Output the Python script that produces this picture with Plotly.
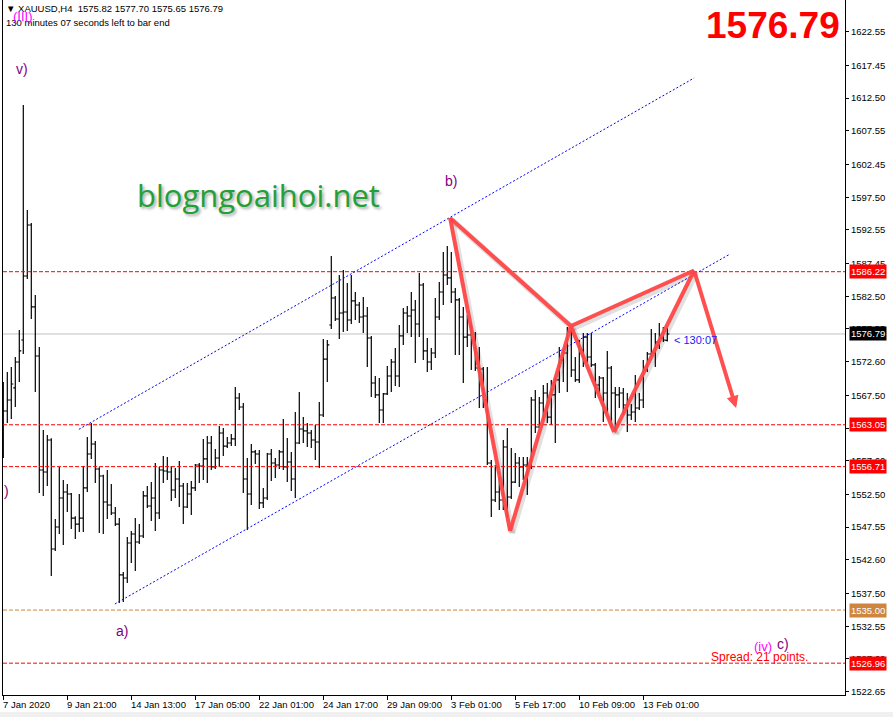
import plotly.graph_objects as go

# ---------------- data (XAUUSD H4) ----------------
bar_index = list(range(167))
opens = [1562.26,1565.13,1566.80,1568.62,1572.55,1575.88,1585.57,1593.29,1580.88,1573.46,
         1556.20,1555.90,1560.74,1544.24,1547.57,1551.96,1552.87,1552.57,1548.93,1548.02,
         1548.93,1553.48,1558.62,1560.14,1556.35,1555.29,1551.36,1550.90,1549.69,1548.02,
         1540.31,1539.85,1545.15,1546.51,1545.30,1546.21,1552.27,1550.75,1551.96,1549.69,
         1556.20,1556.05,1555.90,1553.17,1554.84,1553.78,1550.60,1552.57,1553.48,1556.96,
         1556.81,1557.87,1560.29,1556.66,1558.02,1561.80,1559.83,1560.29,1560.90,1567.10,
         1565.74,1554.84,1552.57,1558.93,1558.62,1551.21,1551.96,1558.62,1557.26,1556.96,
         1558.93,1556.66,1557.41,1554.84,1560.29,1562.41,1562.11,1561.80,1560.74,1560.44,
         1564.53,1573.00,1578.15,1582.24,1579.06,1579.97,1580.12,1578.91,1581.79,1581.18,
         1579.36,1579.51,1576.18,1569.37,1567.56,1565.28,1567.71,1570.43,1572.55,1570.43,
         1576.49,1579.97,1579.51,1580.42,1578.30,1584.21,1574.22,1572.55,1573.91,1579.36,
         1583.15,1585.72,1585.27,1583.15,1581.94,1579.36,1576.33,1576.64,1575.88,1571.64,
         1571.49,1566.80,1557.26,1551.66,1552.87,1551.66,1559.68,1552.11,1554.38,1557.26,
         1556.66,1556.96,1556.66,1566.80,1562.71,1566.34,1567.86,1564.22,1567.56,1569.83,
         1572.85,1573.91,1577.09,1571.34,1569.83,1574.37,1576.33,1573.31,1572.10,1569.07,
         1570.13,1567.86,1571.64,1567.86,1567.56,1567.86,1566.04,1564.53,1564.98,1565.59,
         1566.80,1571.34,1573.76,1573.91,1575.58,1576.18,1575.82]
highs = [1569.52,1571.04,1571.79,1573.31,1577.39,1611.46,1595.56,1593.59,1582.69,1574.82,
         1562.26,1561.50,1561.00,1548.78,1556.66,1554.69,1554.08,1552.72,1549.20,1552.57,
         1556.81,1561.20,1563.32,1560.59,1556.60,1555.50,1556.20,1554.08,1550.60,1548.93,
         1540.76,1546.06,1546.97,1548.93,1548.02,1553.02,1553.78,1554.38,1557.26,1556.66,
         1558.32,1558.17,1556.81,1556.50,1557.56,1554.24,1554.24,1554.54,1557.11,1557.26,
         1560.90,1561.35,1561.35,1559.38,1562.86,1562.56,1561.20,1561.65,1568.77,1567.86,
         1566.34,1558.02,1560.14,1559.23,1559.23,1553.48,1558.77,1559.38,1558.02,1559.23,
         1563.92,1561.05,1558.93,1564.98,1568.01,1564.22,1563.32,1562.26,1563.02,1566.50,
         1576.03,1575.88,1588.60,1582.54,1585.72,1586.48,1584.51,1585.72,1583.15,1581.63,
         1582.39,1580.88,1576.49,1570.43,1570.13,1567.86,1571.94,1573.00,1574.67,1578.15,
         1580.72,1581.03,1583.15,1581.94,1586.02,1584.51,1576.18,1574.67,1582.24,1584.66,
         1589.20,1590.11,1589.20,1583.75,1582.24,1580.88,1579.67,1578.46,1577.09,1574.82,
         1571.79,1571.79,1557.71,1556.96,1555.14,1560.74,1562.56,1559.53,1558.77,1558.17,
         1558.17,1558.17,1567.25,1568.31,1567.25,1569.07,1569.37,1569.83,1570.28,1574.82,
         1574.37,1577.85,1577.39,1573.31,1575.88,1576.94,1576.94,1576.94,1572.40,1570.43,
         1570.28,1574.22,1571.94,1568.77,1568.77,1568.62,1567.86,1566.19,1570.58,1567.86,
         1572.85,1574.07,1577.55,1576.94,1578.46,1577.85,1577.70]
lows = [1558.02,1563.32,1563.92,1565.73,1569.52,1573.76,1585.11,1579.06,1568.01,1552.72,
        1552.27,1553.78,1540.16,1543.94,1546.51,1544.85,1549.84,1547.27,1545.76,1546.82,
        1546.82,1552.87,1557.87,1554.24,1546.66,1546.51,1548.78,1549.40,1547.72,1536.07,
        1536.22,1539.10,1542.13,1540.91,1545.00,1545.90,1550.45,1548.48,1546.97,1548.78,
        1554.24,1554.69,1551.51,1551.96,1550.60,1548.02,1550.45,1549.39,1553.02,1554.24,
        1554.69,1554.24,1556.20,1556.35,1556.66,1558.32,1559.53,1559.83,1559.83,1565.28,
        1552.72,1547.12,1550.90,1557.11,1550.30,1550.45,1551.66,1554.54,1555.00,1556.35,
        1556.20,1554.38,1553.02,1551.96,1560.14,1560.29,1559.68,1559.53,1557.71,1556.50,
        1564.22,1569.52,1577.55,1578.76,1576.03,1577.09,1577.24,1578.30,1578.91,1578.46,
        1576.94,1571.79,1567.25,1567.10,1563.32,1563.32,1567.56,1568.01,1568.92,1568.77,
        1575.13,1576.94,1576.33,1572.40,1576.33,1572.85,1571.04,1571.34,1573.16,1578.91,
        1581.18,1584.21,1581.48,1573.61,1573.61,1569.37,1574.82,1571.34,1571.19,1565.59,
        1565.59,1556.96,1549.09,1551.36,1550.14,1550.14,1548.93,1551.81,1554.24,1553.63,
        1554.69,1552.42,1556.35,1561.80,1562.56,1563.77,1563.32,1563.02,1560.29,1567.86,
        1569.52,1568.01,1570.28,1569.52,1569.37,1571.79,1572.40,1571.79,1567.10,1567.86,
        1563.47,1564.83,1562.56,1562.26,1565.59,1564.53,1561.95,1563.77,1563.47,1565.28,
        1565.59,1571.04,1573.31,1571.79,1574.52,1575.58,1575.65]
closes = [1565.13,1566.80,1569.22,1572.55,1574.22,1585.57,1593.29,1580.88,1573.46,1556.20,
          1555.90,1560.74,1544.24,1547.57,1551.96,1552.87,1552.57,1548.93,1548.02,1548.93,
          1553.48,1558.62,1560.14,1556.35,1555.29,1551.36,1550.90,1549.69,1548.02,1540.31,
          1539.85,1545.15,1546.51,1545.30,1546.21,1552.27,1550.75,1551.96,1549.69,1556.20,
          1556.05,1555.90,1553.17,1554.84,1553.78,1550.60,1552.57,1553.48,1556.96,1556.81,
          1557.87,1560.29,1556.66,1558.02,1561.80,1559.83,1560.29,1560.90,1567.10,1565.74,
          1554.84,1552.57,1558.93,1558.62,1551.21,1551.96,1558.62,1557.26,1556.96,1558.93,
          1556.66,1557.41,1554.84,1560.29,1562.41,1562.11,1561.80,1560.74,1560.44,1564.53,
          1573.00,1575.13,1582.24,1579.06,1579.97,1580.12,1578.91,1581.79,1581.18,1579.36,
          1579.51,1576.18,1569.37,1567.56,1565.28,1567.71,1570.43,1572.55,1570.43,1576.49,
          1579.97,1579.51,1580.42,1578.30,1584.21,1574.22,1572.55,1573.91,1579.36,1583.15,
          1585.72,1585.27,1583.15,1581.94,1579.36,1576.33,1576.64,1575.88,1571.64,1571.49,
          1566.80,1557.26,1551.66,1552.87,1551.66,1559.68,1552.11,1554.38,1557.26,1556.66,
          1556.96,1556.66,1566.80,1562.71,1566.34,1567.86,1564.22,1567.56,1569.83,1572.85,
          1573.91,1577.09,1571.34,1569.83,1574.37,1576.33,1573.31,1572.10,1569.07,1570.13,
          1567.86,1571.64,1567.86,1567.56,1567.86,1566.04,1564.53,1564.98,1565.59,1566.80,
          1571.34,1573.76,1573.91,1575.58,1576.18,1575.88,1576.79]

date_tick_index = [0, 16, 32, 48, 64, 80, 96, 112, 128, 144, 160]
date_tick_text = ["7 Jan 2020", "9 Jan 21:00", "14 Jan 13:00", "17 Jan 05:00",
                  "22 Jan 01:00", "24 Jan 17:00", "29 Jan 09:00", "3 Feb 01:00",
                  "5 Feb 17:00", "10 Feb 09:00", "13 Feb 01:00"]
price_ticks = [1622.55, 1617.45, 1612.50, 1607.55, 1602.45, 1597.50, 1592.55, 1587.45,
               1582.50, 1577.55, 1572.60, 1567.50, 1562.55, 1557.60, 1552.50, 1547.55,
               1542.60, 1537.50, 1532.55, 1527.60, 1522.65]

red_levels = [1586.22, 1563.05, 1556.71, 1526.96]
support_level = 1535.00
bid_price = 1576.79
header_ohlc = "1575.82 1577.70 1575.65 1576.79"

channel_upper_x = [18.9, 172.7]
channel_upper_y = [1562.36, 1615.54]
channel_lower_x = [27.9, 181.7]
channel_lower_y = [1535.92, 1588.90]

# pattern points: b, low, C, D, E ; then projected target
pat_x = [111.7, 126.7, 141.9, 152.7, 172.7]
pat_y = [1594.35, 1546.97, 1578.00, 1561.95, 1586.40]
target_x, target_y = 183.2, 1565.59
pattern_segments = [(0, 1), (1, 2), (0, 2), (2, 4), (2, 3), (3, 4)]

wave_labels = [  # text, x, y, color, size
    ("(III)", 4.9, 1624.9, "#ff00ff", 13),
    ("v)", 4.7, 1616.9, "#800080", 14),
    ("b)", 111.9, 1599.95, "#800080", 14),
    ("a)", 29.7, 1531.83, "#800080", 14),
    ("(iv)", 189.9, 1529.41, "#ff00ff", 13),
    ("c)", 194.9, 1529.86, "#800080", 14),
    (")", 0.7, 1553.0, "#800080", 14),
]

X_RANGE = [-0.075, 210.425]
Y_RANGE = [1522.14, 1627.35]
FONT = "Liberation Sans"

fig = go.Figure()
fig.add_trace(go.Ohlc(
    x=bar_index, open=opens, high=highs, low=lows, close=closes,
    increasing=dict(line=dict(color="black", width=1.2)),
    decreasing=dict(line=dict(color="black", width=1.2)),
    tickwidth=0.5, hoverinfo="skip", showlegend=False,
))

shapes = []
# bottom light strip
shapes.append(dict(type="rect", xref="paper", yref="paper", x0=-0.01, x1=1.1,
                   y0=-0.06, y1=-0.0245, fillcolor="#f0f0f0", line=dict(width=0), layer="below"))
# bid line
shapes.append(dict(type="line", xref="paper", x0=0, x1=1, yref="y", y0=bid_price, y1=bid_price,
                   line=dict(color="#c0c0c0", width=1), layer="below"))
for lv in red_levels:
    shapes.append(dict(type="line", xref="paper", x0=0, x1=1, yref="y", y0=lv, y1=lv,
                       line=dict(color="#ff0000", width=1, dash="4px,2px")))
shapes.append(dict(type="line", xref="paper", x0=0, x1=1, yref="y", y0=support_level, y1=support_level,
                   line=dict(color="#cd853f", width=1, dash="4px,2px")))
# channel
for cx, cy in [(channel_upper_x, channel_upper_y), (channel_lower_x, channel_lower_y)]:
    shapes.append(dict(type="line", xref="x", yref="y", x0=cx[0], y0=cy[0], x1=cx[1], y1=cy[1],
                       line=dict(color="#0000ff", width=1, dash="2px,2px")))
# pattern shadow + lines
for a, b in pattern_segments:
    shapes.append(dict(type="line", xref="x", yref="y", x0=pat_x[a] + 0.5, y0=pat_y[a] - 0.35,
                       x1=pat_x[b] + 0.5, y1=pat_y[b] - 0.35,
                       line=dict(color="rgba(0,0,0,0.12)", width=6)))
for a, b in pattern_segments:
    shapes.append(dict(type="line", xref="x", yref="y", x0=pat_x[a], y0=pat_y[a],
                       x1=pat_x[b], y1=pat_y[b],
                       line=dict(color="rgba(255,70,70,0.95)", width=4)))

ann = []
# arrow to target
ann.append(dict(x=target_x, y=target_y, ax=pat_x[4], ay=pat_y[4], xref="x", yref="y",
                axref="x", ayref="y", showarrow=True, arrowhead=2, arrowsize=0.6,
                arrowwidth=4, arrowcolor="rgba(255,70,70,0.95)", text=""))
# date labels, left aligned at ticks
for xi, tt in zip(date_tick_index, date_tick_text):
    ann.append(dict(x=xi, y=0, xref="x", yref="paper", xanchor="left", yanchor="top",
                    xshift=-2, yshift=-2, text=tt, showarrow=False,
                    font=dict(family=FONT, size=9.5, color="black")))
# right price boxes
for lv in red_levels:
    ann.append(dict(x=1, y=lv, xref="paper", yref="y", xanchor="left", yanchor="middle",
                    xshift=4, text=f"{lv:.2f}", showarrow=False, bgcolor="#ff0000",
                    borderpad=1, font=dict(family=FONT, size=9.5, color="white")))
ann.append(dict(x=1, y=support_level, xref="paper", yref="y", xanchor="left", yanchor="middle",
                xshift=4, text=f"{support_level:.2f}", showarrow=False, bgcolor="#cd853f",
                borderpad=1, font=dict(family=FONT, size=9.5, color="white")))
ann.append(dict(x=1, y=bid_price, xref="paper", yref="y", xanchor="left", yanchor="middle",
                xshift=4, text=f"{bid_price:.2f}", showarrow=False, bgcolor="#000000",
                borderpad=1, font=dict(family=FONT, size=9.5, color="white")))
# big price
ann.append(dict(x=(842 - 3) / 842, y=1 - 25 / 695, xref="paper", yref="paper", xanchor="right",
                yanchor="middle", text=f"<b>{bid_price:.2f}</b>", showarrow=False,
                font=dict(family=FONT, size=37, color="#ff0000")))
# header
ann.append(dict(x=0, y=1, xref="paper", yref="paper", xanchor="left", yanchor="middle",
                yshift=-8, xshift=1, text="▼ XAUUSD,H4\u00a0\u00a0" + header_ohlc, showarrow=False,
                font=dict(family=FONT, size=9.5, color="black")))
ann.append(dict(x=0, y=1, xref="paper", yref="paper", xanchor="left", yanchor="middle",
                yshift=-22, xshift=1, text="130 minutes 07 seconds left to bar end", showarrow=False,
                font=dict(family=FONT, size=9.5, color="black")))
# watermark
ann.append(dict(x=63.7, y=1597.8, xref="x", yref="y", text="blogngoaihoi.net", showarrow=False,
                font=dict(family="Open Sans", size=31, color="#22a035",
                          shadow="2px 2px 3px rgba(0,0,0,0.35)")))
# wave labels
for t, xx, yy, col, sz in wave_labels:
    ann.append(dict(x=xx, y=yy, xref="x", yref="y", text=t, showarrow=False,
                    font=dict(family=FONT, size=sz, color=col)))
ann.append(dict(x=176.4, y=1527.9, xref="x", yref="y", xanchor="left", text="Spread: 21 points.",
                showarrow=False, font=dict(family=FONT, size=12, color="#ff0000")))
ann.append(dict(x=167.2, y=1575.9, xref="x", yref="y", xanchor="left", text="< 130:07",
                showarrow=False, font=dict(family=FONT, size=11, color="#2020ff")))

fig.update_layout(
    width=893, height=717,
    margin=dict(l=3, r=48, t=0, b=22, autoexpand=False),
    paper_bgcolor="white", plot_bgcolor="white",
    shapes=shapes, annotations=ann, showlegend=False,
    xaxis=dict(range=X_RANGE, showgrid=False, zeroline=False, showline=True, linecolor="black",
               linewidth=1, ticks="outside", ticklen=4, tickcolor="black",
               tickvals=date_tick_index, showticklabels=False,
               rangeslider=dict(visible=False)),
    yaxis=dict(range=Y_RANGE, side="right", showgrid=False, zeroline=False, showline=True,
               mirror=True, linecolor="black", linewidth=1, ticks="outside", ticklen=3,
               tickcolor="black", tickvals=price_ticks,
               ticktext=[f"{p:.2f}" for p in price_ticks],
               tickfont=dict(family=FONT, size=9.5, color="black")),
)

fig.write_html("out.html", config={"displayModeBar": False},
               post_script="document.body.style.margin='0';document.body.style.overflow='hidden';")
